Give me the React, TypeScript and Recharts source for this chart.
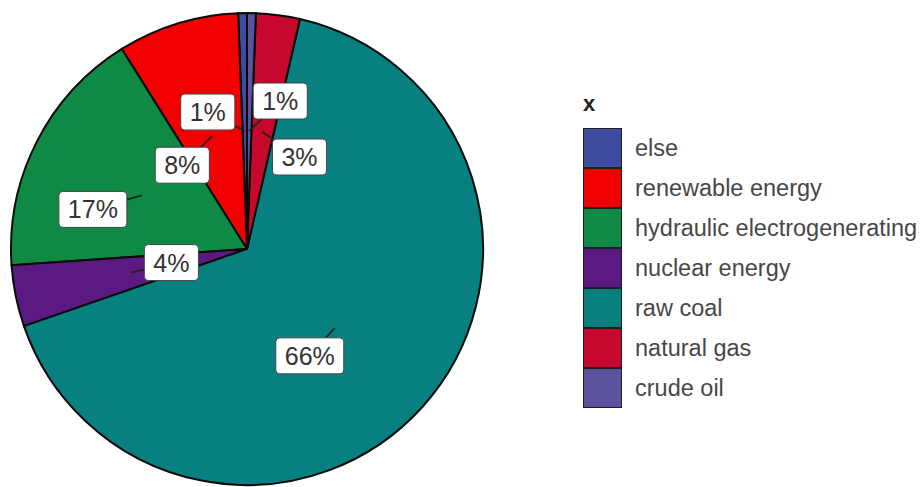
import { PieChart, Pie, Cell, Legend } from "recharts";

// energy mix, counter-clockwise from 12 o'clock (same order as legend)
const sources = [
  "else",
  "renewable energy",
  "hydraulic electrogenerating",
  "nuclear energy",
  "raw coal",
  "natural gas",
  "crude oil",
];
const shares = [0.6, 8.3, 17.2, 4.2, 66.1, 3.0, 0.6];
const colors = ["#3d4c9c", "#f20000", "#0f8a45", "#5b1a82", "#088080", "#c5082c", "#5a529e"];

// repel-style offsets of each label from its anchor (px)
const labelNudge: [number, number][] = [
  [-37, -19],
  [-30, 29],
  [-49, 14],
  [40, -10],
  [-25, 28],
  [37, 25],
  [31, -30],
];

const data = sources.map((name, i) => ({ name, value: shares[i] }));

const RAD = Math.PI / 180;
const FONT = "'Liberation Sans', Arial, sans-serif";

function renderLabel(props: any) {
  const { cx, cy, midAngle, outerRadius, percent, index } = props;
  const r = outerRadius / 2;
  const ax = cx + r * Math.cos(-midAngle * RAD);
  const ay = cy + r * Math.sin(-midAngle * RAD);
  const [dx, dy] = labelNudge[index];
  const lx = ax + dx;
  const ly = ay + dy;
  const text = `${Math.round(percent * 100)}%`;
  const fs = 25;
  const w = (text.length - 1) * 0.556 * fs + 0.889 * fs + 18;
  const h = 36;
  return (
    <g>
      <line x1={ax} y1={ay} x2={lx} y2={ly} stroke="#222" strokeWidth={1.8} />
      <rect
        x={lx - w / 2}
        y={ly - h / 2}
        width={w}
        height={h}
        rx={4}
        fill="#fff"
        stroke="#444"
        strokeWidth={1}
      />
      <text
        x={lx}
        y={ly}
        textAnchor="middle"
        dominantBaseline="central"
        fontSize={fs}
        fontFamily={FONT}
        fill="#333"
      >
        {text}
      </text>
    </g>
  );
}

function LegendBox() {
  return (
    <div style={{ fontFamily: FONT }}>
      <div style={{ height: 40, lineHeight: "32px", fontSize: 22, fontWeight: "bold", color: "#222" }}>
        x
      </div>
      {sources.map((s, i) => (
        <div key={s} style={{ display: "flex", alignItems: "center", height: 40 }}>
          <div
            style={{
              width: 37,
              height: 38,
              background: colors[i],
              border: "1.5px solid #1e1e1e",
            }}
          />
          <span style={{ marginLeft: 13, fontSize: 23.5, color: "#474747", whiteSpace: "nowrap" }}>
            {s}
          </span>
        </div>
      ))}
    </div>
  );
}

export default function App() {
  return (
    <div style={{ position: "absolute", left: 0, top: 0, width: 923, height: 487, background: "#fff" }}>
      <PieChart width={923} height={487} margin={{ top: 0, right: 0, bottom: 0, left: 0 }}>
        <Pie
          data={data}
          dataKey="value"
          nameKey="name"
          cx={247}
          cy={249}
          outerRadius={236}
          startAngle={90}
          endAngle={450}
          stroke="#0a0a0a"
          strokeWidth={2}
          label={renderLabel}
          labelLine={false}
          isAnimationActive={false}
        >
          {data.map((d, i) => (
            <Cell key={d.name} fill={colors[i]} />
          ))}
        </Pie>
        <Legend
          content={() => <LegendBox />}
          wrapperStyle={{ position: "absolute", left: 583, top: 88, width: 340 }}
        />
      </PieChart>
    </div>
  );
}
